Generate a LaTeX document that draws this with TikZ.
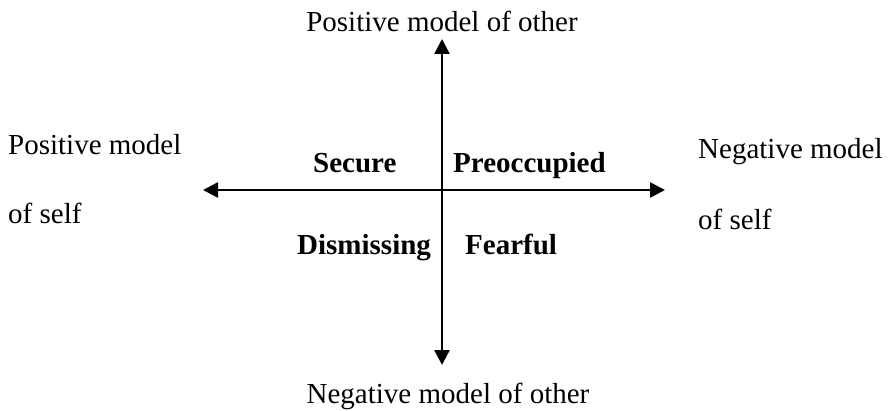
\documentclass[tikz,border=0pt]{standalone}
\usepackage{fontspec}
\setmainfont{Liberation Serif}
\usetikzlibrary{arrows.meta}
\begin{document}
\begin{tikzpicture}[x=1pt,y=-1pt,
  axis/.style={line width=2.6pt,{Triangle[length=15pt,width=15pt]}-{Triangle[length=15pt,width=15pt]}},
  lbl/.style={inner sep=0pt,font=\fontsize{29}{35}\selectfont},
  quad/.style={inner sep=0pt,font=\fontsize{29}{35}\selectfont\bfseries}]
\useasboundingbox (0,0) rectangle (888,411);
\coordinate (top) at (442,39);
\coordinate (bot) at (442,365);
\coordinate (lft) at (203,190);
\coordinate (rgt) at (665,190);
\draw[axis] (bot) -- (top);
\draw[axis] (lft) -- (rgt);
\node[lbl,anchor=base] (po) at (442,32) {Positive model of other};
\node[lbl,anchor=base] (no) at (448,403) {Negative model of other};
\node[lbl,anchor=base west] (ps1) at (8,155) {Positive model};
\node[lbl,anchor=base west] (ps2) at (8,224) {of self};
\node[lbl,anchor=base west] (ns1) at (698,159) {Negative model};
\node[lbl,anchor=base west] (ns2) at (698,230) {of self};
\node[quad,anchor=base west] (sec) at (313,173) {Secure};
\node[quad,anchor=base west] (pre) at (453,173) {Preoccupied};
\node[quad,anchor=base west] (dis) at (297,255) {Dismissing};
\node[quad,anchor=base west] (fea) at (465,255) {Fearful};
\end{tikzpicture}
\end{document}
